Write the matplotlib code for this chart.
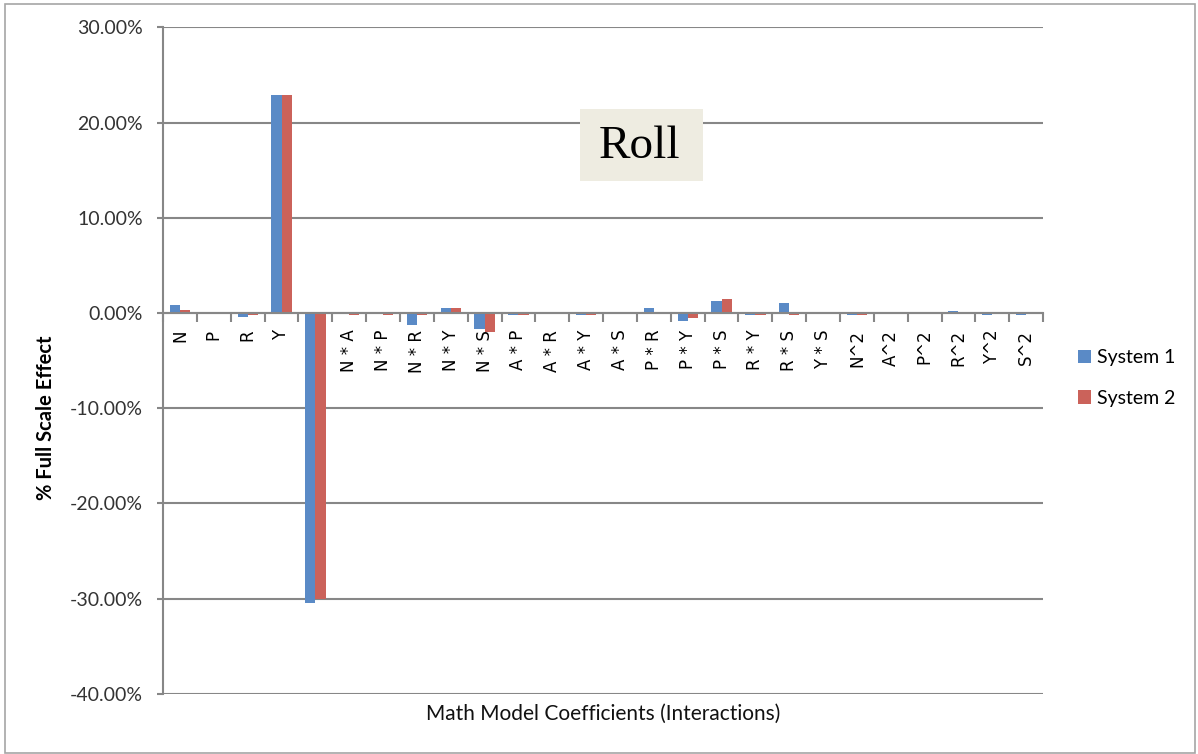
import numpy as np
import matplotlib
matplotlib.use("Agg")
import matplotlib.pyplot as plt
from matplotlib.patches import Rectangle
from matplotlib.ticker import FuncFormatter, FixedLocator

# coefficients and effects (% of full scale)
coefs = ['N', 'P', 'R', 'Y', 'S', 'N * A', 'N * P', 'N * R', 'N * Y', 'N * S',
         'A * P', 'A * R', 'A * Y', 'A * S', 'P * R', 'P * Y', 'P * S', 'R * Y',
         'R * S', 'Y * S', 'N^2', 'A^2', 'P^2', 'R^2', 'Y^2', 'S^2']
system1 = [0.8, -0.15, -0.4, 22.9, -30.4, 0.0, 0.0, -1.3, 0.5, -1.7,
           -0.2, 0.0, -0.2, 0.0, 0.5, -0.8, 1.3, -0.2,
           1.0, 0.0, -0.2, 0.0, 0.0, 0.2, -0.2, -0.2]
system2 = [0.3, -0.15, -0.2, 22.9, -30.0, -0.2, -0.2, -0.2, 0.5, -2.0,
           -0.2, 0.0, -0.2, 0.0, 0.0, -0.5, 1.5, -0.2,
           -0.2, 0.0, -0.2, 0.0, 0.0, 0.0, 0.0, 0.0]
series_names = ['System 1', 'System 2']
yticks = [-40, -30, -20, -10, 0, 10, 20, 30]

plt.rcParams['font.family'] = ['Lato', 'DejaVu Sans']

fig = plt.figure(figsize=(11.98, 7.54), dpi=100)
ax = fig.add_axes([0.1361, 0.0796, 0.7346, 0.8842])

grid_col = '#878787'
x = np.arange(len(coefs))
w = 0.3
b1 = ax.bar(x - w, system1, width=w, align='edge', color='#5A8AC6', label=series_names[0], zorder=3)
b2 = ax.bar(x, system2, width=w, align='edge', color='#CB625A', label=series_names[1], zorder=3)

ax.set_xlim(-0.5, len(coefs) - 0.5)
ax.set_ylim(-40, 30)
ax.set_yticks(yticks)
ax.yaxis.set_major_formatter(FuncFormatter(lambda v, p: f'{v:.2f}%'))
ax.yaxis.grid(True, color=grid_col, lw=1.5, zorder=0)
ax.tick_params(axis='y', length=4.5, width=1.5, color=grid_col, pad=10,
               labelsize=14, labelcolor='#333333')

# category axis sits on zero
for s in ['top', 'right']:
    ax.spines[s].set_visible(False)
ax.spines['bottom'].set_position(('data', 0))
ax.spines['bottom'].set_color(grid_col)
ax.spines['bottom'].set_linewidth(1.5)
ax.spines['bottom'].set_zorder(4)
ax.spines['left'].set_color(grid_col)
ax.spines['left'].set_linewidth(1.5)

ax.set_xticks(x)
ax.set_xticklabels(coefs, rotation=90, va='top', ha='center', family='DejaVu Sans')
ax.xaxis.set_minor_locator(FixedLocator(np.arange(-0.5, len(coefs), 1.0)))
ax.tick_params(axis='x', which='major', length=0, pad=12, labelsize=12, labelcolor='black')
ax.tick_params(axis='x', which='minor', length=6.5, width=1.5, color=grid_col, direction='out')

ax.set_ylabel('% Full Scale Effect', fontsize=14.5, fontweight='bold')
ax.yaxis.set_label_coords(-0.122, 0.414)
ax.text(0.5, -0.03, 'Math Model Coefficients (Interactions)', transform=ax.transAxes,
        ha='center', va='center', fontsize=15, color='#111111')

# "Roll" box
fig.patches.append(Rectangle((580 / 1198, 1 - 181 / 754), 123 / 1198, 72 / 754,
                             transform=fig.transFigure, facecolor='#EEECE1',
                             edgecolor='none', zorder=5))
fig.text(640 / 1198, 1 - 147 / 754, 'Roll', family='Liberation Serif', fontsize=34,
         ha='center', va='center', zorder=6)

fig.legend(handles=[b1, b2], loc='center left', bbox_to_anchor=(0.885, 0.4987),
           frameon=False, fontsize=14, handlelength=0.7, handleheight=0.7,
           labelspacing=1.2, handletextpad=0.3)

# chart border
fig.patches.append(Rectangle((5 / 1198, 1 / 754), 1190 / 1198, 749 / 754,
                             transform=fig.transFigure, facecolor='none',
                             edgecolor='#A6A6A6', lw=1.2))

fig.savefig('out.png', dpi=100)
